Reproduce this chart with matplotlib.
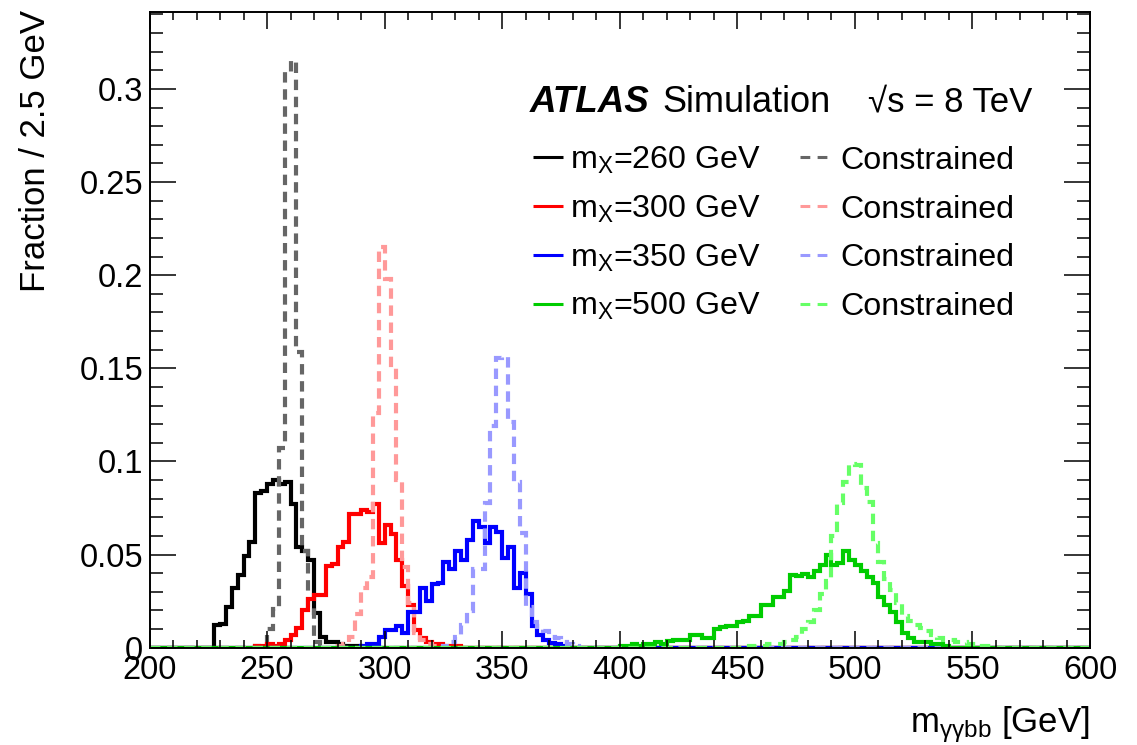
import numpy as np
import matplotlib.pyplot as plt
from matplotlib.ticker import MultipleLocator, FuncFormatter

plt.rcParams['font.family'] = ['Liberation Sans', 'DejaVu Sans']
plt.rcParams['mathtext.fontset'] = 'custom'
plt.rcParams['mathtext.rm'] = 'Liberation Sans'
plt.rcParams['mathtext.it'] = 'Liberation Sans:italic'
plt.rcParams['mathtext.bf'] = 'Liberation Sans:bold'

# binning: 2.5 GeV bins from 200 to 600 GeV
bin_lo, bin_hi, bin_w = 200.0, 600.0, 2.5

# fraction per bin, each list begins at the given bin low edge (GeV)
m260_start = 225.0
m260 = [0.0, 0.0123, 0.0129, 0.022, 0.032, 0.039, 0.049, 0.057, 0.083, 0.084,
        0.088, 0.090, 0.088, 0.089, 0.077, 0.054, 0.052, 0.047, 0.0186, 0.006,
        0.003, 0.003, 0.002, 0.001, 0.001, 0.001]
m260c_start = 245.0
m260c = [0.001, 0.002, 0.010, 0.021, 0.107, 0.309, 0.315, 0.159, 0.052, 0.022,
         0.003, 0.001]

m300_start = 245.0
m300 = [0.001, 0.001, 0.002, 0.001, 0.002, 0.004, 0.007, 0.0105, 0.020, 0.026,
        0.0285, 0.0285, 0.044, 0.045, 0.054, 0.057, 0.072, 0.072, 0.074, 0.073,
        0.077, 0.056, 0.066, 0.061, 0.047, 0.033, 0.023, 0.0097, 0.0054, 0.003,
        0.002, 0.002, 0.001, 0.001, 0.001]
m300c_start = 280.0
m300c = [0.001, 0.002, 0.006, 0.018, 0.032, 0.038, 0.126, 0.215, 0.198, 0.150,
         0.090, 0.0435, 0.024, 0.008, 0.004, 0.002, 0.001]

m350_start = 290.0
m350 = [0.001, 0.002, 0.002, 0.006, 0.0097, 0.0097, 0.0115, 0.008, 0.019, 0.019,
        0.032, 0.025, 0.034, 0.035, 0.046, 0.042, 0.052, 0.047, 0.058, 0.068,
        0.065, 0.056, 0.065, 0.062, 0.048, 0.054, 0.032, 0.040, 0.029, 0.0115,
        0.007, 0.0043, 0.0025, 0.002, 0.001]
m350c_start = 325.0
m350c = [0.001, 0.003, 0.006, 0.0122, 0.0195, 0.042, 0.042, 0.0775, 0.119, 0.1555,
         0.156, 0.1213, 0.089, 0.0616, 0.022, 0.014, 0.010, 0.009, 0.006, 0.005,
         0.003, 0.002, 0.001]

m500_start = 400.0
m500 = [0.001, 0.001, 0.002, 0.001, 0.002, 0.002, 0.003, 0.002, 0.0034, 0.0039,
        0.0039, 0.0039, 0.007, 0.007, 0.0052, 0.0052, 0.010, 0.011, 0.0115, 0.0115,
        0.014, 0.0145, 0.017, 0.017, 0.0227, 0.0227, 0.027, 0.027, 0.0302, 0.0392,
        0.0384, 0.0397, 0.038, 0.041, 0.0445, 0.050, 0.0445, 0.0454, 0.0517, 0.047,
        0.0445, 0.041, 0.038, 0.035, 0.027, 0.023, 0.019, 0.014, 0.008, 0.005,
        0.003, 0.003, 0.003, 0.002, 0.002, 0.001]
m500c_start = 455.0
m500c = [0.001, 0.001, 0.001, 0.002, 0.002, 0.002, 0.003, 0.004, 0.006, 0.010,
         0.014, 0.020, 0.029, 0.036, 0.060, 0.0775, 0.089, 0.0986, 0.098, 0.0855,
         0.078, 0.056, 0.046, 0.037, 0.031, 0.024, 0.017, 0.0143, 0.012, 0.0106,
         0.009, 0.007, 0.005, 0.004, 0.004, 0.003, 0.003, 0.002, 0.002, 0.001,
         0.001, 0.001]

mass_labels = ['260', '300', '350', '500']
solid_colors = ['#000000', '#ff0000', '#0000ff', '#00cc00']
dashed_colors = ['#666666', '#ff9999', '#9999ff', '#66ff66']

edges = np.arange(bin_lo, bin_hi + bin_w / 2, bin_w)


def full_hist(start, vals):
    h = np.zeros(len(edges) - 1)
    i0 = int(round((start - bin_lo) / bin_w))
    h[i0:i0 + len(vals)] = vals
    return h


solid = [(m260_start, m260), (m300_start, m300), (m350_start, m350), (m500_start, m500)]
constr = [(m260c_start, m260c), (m300c_start, m300c), (m350c_start, m350c), (m500c_start, m500c)]

dash = (0, (2.5, 1.6))

fig = plt.figure(figsize=(11.37, 7.45), dpi=100)
ax = fig.add_axes([0.1315, 0.1306, 0.8272, 0.8537])

for (s0, v0), (s1, v1), c0, c1 in zip(solid, constr, solid_colors, dashed_colors):
    ax.stairs(full_hist(s0, v0), edges, color=c0, lw=3.0, joinstyle='miter')
    ax.stairs(full_hist(s1, v1), edges, color=c1, lw=3.0, linestyle=dash,
              joinstyle='miter')

ax.set_xlim(bin_lo, bin_hi)
ax.set_ylim(0, 0.3415)
ax.xaxis.set_major_locator(MultipleLocator(50))
ax.xaxis.set_minor_locator(MultipleLocator(10))
ax.yaxis.set_major_locator(MultipleLocator(0.05))
ax.yaxis.set_minor_locator(MultipleLocator(0.01))
ax.yaxis.set_major_formatter(FuncFormatter(lambda v, p: '%g' % round(v, 3)))
ax.xaxis.set_major_formatter(FuncFormatter(lambda v, p: '%d' % v))

ax.tick_params(which='both', direction='in', top=True, right=True, width=1.1)
ax.tick_params(axis='x', which='major', length=12, labelsize=23.5, pad=5)
ax.tick_params(axis='x', which='minor', length=6)
ax.tick_params(axis='y', which='major', length=19, labelsize=23.5, pad=4.5)
ax.tick_params(axis='y', which='minor', length=9.5)
for sp in ax.spines.values():
    sp.set_linewidth(1.4)

fig.text(0.031, 0.987, 'Fraction / 2.5 GeV', rotation=90, ha='center', va='top',
         fontsize=25)
fig.text(1090 / 1137, 1 - 732 / 745, r'm$_{\mathregular{γγbb}}$ [GeV]',
         ha='right', va='baseline', fontsize=25)

# labels in the upper right
ax.text(0.4046, 0.8428, 'ATLAS', transform=ax.transAxes, fontsize=26.5,
        fontweight='bold', fontstyle='italic', va='baseline')
ax.text(0.5449, 0.8428, 'Simulation', transform=ax.transAxes, fontsize=26,
        va='baseline')
ax.text(0.7640, 0.8428, '√s = 8 TeV', transform=ax.transAxes,
        fontsize=25, va='baseline')

# legend
row_y = 0.7711
row_dy = 0.0769
for i, (m, c0, c1) in enumerate(zip(mass_labels, solid_colors, dashed_colors)):
    y = row_y - i * row_dy
    ax.plot([0.4078, 0.4397], [y, y], color=c0, lw=2.2, transform=ax.transAxes,
            clip_on=False, solid_capstyle='butt')
    ax.text(0.4471, y - 0.0178, r'm$_{\mathregular{X}}$=' + m + ' GeV',
            transform=ax.transAxes, fontsize=23.2, va='baseline')
    ax.plot([0.6917, 0.7236], [y, y], color=c1, lw=2.2, transform=ax.transAxes,
            clip_on=False, linestyle=(0, (3.2, 2.4)), dash_capstyle='butt')
    ax.text(0.7342, y - 0.0178, 'Constrained', transform=ax.transAxes,
            fontsize=23.2, va='baseline')

fig.savefig('out.png', dpi=100)
